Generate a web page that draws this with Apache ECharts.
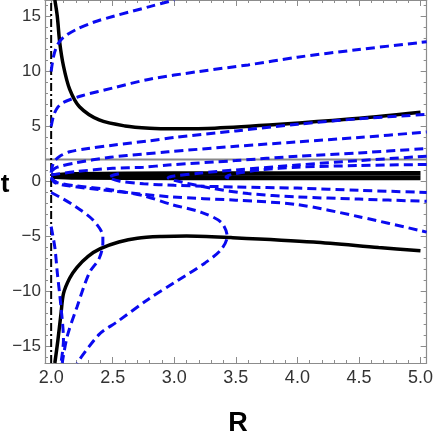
<!DOCTYPE html>
<html>
<head>
<meta charset="utf-8">
<script src="https://cdn.jsdelivr.net/npm/echarts@6/dist/echarts.min.js"></script>
<style>
  html, body { margin: 0; padding: 0; background: #fff; }
  #targetElement { width: 436px; height: 436px; }
</style>
</head>
<body>
<div id="targetElement"></div>
<script>
// axis ranges and tick labels
const xRange = [1.95, 5.05];
const yRange = [-16.5, 16.5];
const xTicks = [2.0, 2.5, 3.0, 3.5, 4.0, 4.5, 5.0];
const yTicks = [-15, -10, -5, 0, 5, 10, 15];
const horizonT = 2.0;   // gray horizontal line
const wallR = 2.0;      // dash-dot vertical line

// black solid curves  [R, t]
const blackUpper = [[2.03,16.5],[2.05,15.0],[2.07,12.6],[2.1,10.5],[2.15,8.4],[2.23,6.8],[2.39,5.6],[2.6,5.05],[2.8,4.85],[3.0,4.8],[3.33,4.85],[3.86,5.2],[4.4,5.65],[5.0,6.3]];
const blackLower = [[2.03,-16.5],[2.055,-14.4],[2.08,-12.0],[2.1,-10.2],[2.15,-8.8],[2.21,-7.8],[2.3,-6.8],[2.4,-6.1],[2.55,-5.5],[2.7,-5.15],[2.9,-5.0],[3.1,-4.95],[3.46,-5.1],[4.13,-5.5],[4.66,-6.0],[5.0,-6.3]];
const blackBandA = [[2.0,0.55],[2.2,0.66],[3.0,0.72],[5.0,0.74]];
const blackBandB = [[2.0,0.45],[2.2,0.36],[3.0,0.33],[5.0,0.32]];

// blue dashed curves
const blue1 = [[2.0,10.0],[2.02,11.4],[2.05,12.4],[2.1,13.1],[2.2,13.8],[2.35,14.5],[2.5,15.0],[2.8,15.9],[3.0,16.5]];
const blue2 = [[2.0,5.0],[2.02,6.0],[2.05,6.7],[2.1,7.2],[2.25,7.8],[2.5,8.5],[2.8,9.3],[3.2,10.0],[3.6,10.6],[4.0,11.3],[4.5,12.0],[5.05,12.7]];
const blue3 = [[2.0,0.8],[2.01,1.4],[2.03,1.9],[2.07,2.3],[2.15,2.7],[2.3,3.0],[2.5,3.3],[2.8,3.7],[3.0,4.0],[3.5,4.6],[4.0,5.2],[4.5,5.7],[5.05,6.1]];
const blue4 = [[2.0,0.9],[2.05,1.3],[2.2,1.7],[2.48,2.2],[2.75,2.5],[2.95,2.7],[3.5,3.2],[4.0,3.6],[4.5,4.0],[5.05,4.5]];
const blue5 = [[2.0,0.6],[2.2,0.9],[2.5,1.2],[2.75,1.3],[2.95,1.5],[3.5,1.9],[4.0,2.3],[4.5,2.6],[5.05,3.0]];
const blue6 = [[5.05,1.55],[4.5,1.45],[4.0,1.3],[3.7,1.05],[3.5,0.72],[3.42,0.42],[3.47,0.22]];
const blue7 = [[2.55,0.7],[2.47,0.4],[2.55,0.05],[2.75,-0.2],[3.0,-0.35],[3.5,-0.5],[4.0,-0.6],[4.5,-0.8],[5.05,-1.0]];
const blue8 = [[5.05,2.3],[4.5,1.9],[4.0,1.5],[3.5,1.05],[3.2,0.75],[3.0,0.5],[2.95,0.35],[3.0,0.1],[3.3,-0.6],[3.6,-1.1],[4.0,-1.4],[4.5,-1.6],[5.05,-1.8]];
const blue9 = [[2.0,0.4],[2.03,-0.1],[2.15,-0.4],[2.48,-0.85],[2.98,-1.4],[3.5,-1.7],[4.0,-2.1],[4.5,-3.2],[5.05,-4.6]];
const blue10 = [[2.0,0.3],[2.05,-0.1],[2.2,-0.4],[2.48,-0.75],[2.75,-1.3],[2.98,-2.1],[3.22,-2.8],[3.38,-3.7],[3.43,-5.0],[3.38,-6.2],[3.25,-7.4],[3.0,-9.2],[2.79,-10.7],[2.53,-12.8],[2.39,-13.9],[2.21,-16.5]];
const blue11 = [[2.0,-1.0],[2.1,-1.6],[2.2,-2.3],[2.34,-3.5],[2.42,-5.0],[2.42,-5.6],[2.39,-7.0],[2.31,-8.3],[2.21,-11.4],[2.13,-14.1],[2.09,-16.5]];
const blue12 = [[2.0,-4.1],[2.03,-6.0],[2.05,-8.3],[2.08,-11.4],[2.1,-14.4],[2.08,-16.5]];

const blackCurves = [blackUpper, blackLower, blackBandA, blackBandB];
const blueCurves = [blue1, blue2, blue3, blue4, blue5, blue6, blue7, blue8, blue9, blue10, blue11, blue12];

const FONT = "'Liberation Sans Narrow', 'Liberation Sans', sans-serif";
const FRAME = "#8c8c8c";

function minorList(lo, hi, step) {
  let out = [];
  for (let v = lo; v <= hi + 1e-9; v += step) out.push(Math.round(v * 100) / 100);
  return out;
}

function makeAxis(kind, pos, major, withLabel, range, minorStep) {
  let ax = {
    type: "value",
    position: pos,
    min: range[0],
    max: range[1],
    splitLine: { show: false },
    axisLine: { show: major, onZero: false, lineStyle: { color: FRAME, width: 1.2 } },
    axisTick: {
      show: true,
      inside: true,
      length: major ? 6 : 3,
      lineStyle: { color: FRAME, width: 1 },
      customValues: major
        ? (kind === "x" ? xTicks : yTicks)
        : minorList(kind === "x" ? 2.0 : -16, kind === "x" ? 5.0 : 16, minorStep)
    },
    axisLabel: { show: false }
  };
  if (withLabel) {
    ax.axisLabel = {
      show: true,
      customValues: kind === "x" ? xTicks : yTicks,
      color: "#333",
      fontFamily: FONT,
      fontSize: kind === "x" ? 18 : 17,
      margin: kind === "x" ? 6 : 4,
      formatter: (v) => kind === "x" ? v.toFixed(1) : (v < 0 ? "\u2212" + Math.abs(v) : String(v))
    };
  }
  return ax;
}

function renderChart() {
  let chart = echarts.init(document.getElementById("targetElement"));
  let series = [];
  series.push({
    type: "line", data: [[xRange[0], horizonT], [xRange[1], horizonT]],
    showSymbol: false, silent: true,
    lineStyle: { color: "#8a8a8a", width: 2 }
  });
  series.push({
    type: "line", data: [[wallR, yRange[0]], [wallR, yRange[1]]],
    showSymbol: false, silent: true,
    lineStyle: { color: "#000", width: 2, type: [8, 3, 2, 3] }
  });
  blackCurves.forEach((c, i) => {
    series.push({
      type: "line", data: c, showSymbol: false, smooth: 0.3, silent: true,
      lineStyle: { color: "#000", width: i < 2 ? 3.5 : 4.6 }
    });
  });
  blueCurves.forEach((c) => {
    series.push({
      type: "line", data: c, showSymbol: false, smooth: 0.3, silent: true,
      lineStyle: { color: "#0a0af0", width: 3, type: [9, 5] }
    });
  });

  chart.setOption({
    animation: false,
    backgroundColor: "#fff",
    grid: { left: 45, right: 3, top: 0, bottom: 73 },
    xAxis: [
      makeAxis("x", "bottom", true, true, xRange, 0.1),
      makeAxis("x", "bottom", false, false, xRange, 0.1),
      makeAxis("x", "top", true, false, xRange, 0.1),
      makeAxis("x", "top", false, false, xRange, 0.1)
    ],
    yAxis: [
      makeAxis("y", "left", true, true, yRange, 1),
      makeAxis("y", "left", false, false, yRange, 1),
      makeAxis("y", "right", true, false, yRange, 1),
      makeAxis("y", "right", false, false, yRange, 1)
    ],
    series: series,
    graphic: [
      { type: "text", x: 5, y: 185, style: { text: "t", font: "bold 26px 'Liberation Sans', sans-serif", fill: "#000", align: "center", verticalAlign: "middle" } },
      { type: "text", x: 238, y: 424, style: { text: "R", font: "bold 27px 'Liberation Sans', sans-serif", fill: "#000", align: "center", verticalAlign: "middle" } }
    ]
  });
}

renderChart();
</script>
</body>
</html>
